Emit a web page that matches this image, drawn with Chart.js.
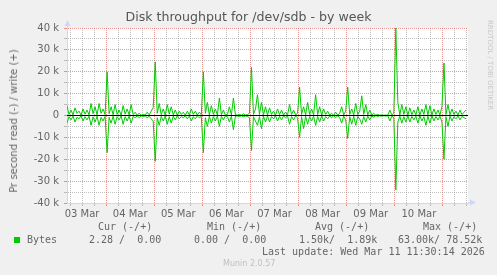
<!DOCTYPE html>
<html>
<head>
<meta charset="utf-8">
<script src="https://cdn.jsdelivr.net/npm/chart.js@4.4.0/dist/chart.umd.min.js"></script>
<style>
  body { margin: 0; background: #f0f0f0; }
  #wrap { position: relative; width: 497px; height: 275px; background: #f0f0f0; overflow: hidden; }
  #diskChart { position: absolute; left: 0; top: 0; }
  .title { position: absolute; left: 0; width: 497px; top: 9px; text-align: center; font: 12.6px "DejaVu Sans", sans-serif; color: #555; line-height: 16px; }
  .ytitle { position: absolute; left: 14px; top: 121px; transform: translate(-50%, -50%) rotate(-90deg); font: 10px "DejaVu Sans", sans-serif; color: #666; white-space: nowrap; line-height: 12px; }
  .t { position: absolute; font: 10px "DejaVu Sans Mono", monospace; color: #666; white-space: pre; line-height: 12px; }
  .swatch { position: absolute; left: 14px; top: 237px; width: 6px; height: 6px; background: #00cc00; }
  .munin { position: absolute; left: 223px; top: 259px; font: 8px "DejaVu Sans", sans-serif; color: #c0c0c0; line-height: 10px; }
  .rrd { position: absolute; left: 486px; top: 20px; font: 7px "DejaVu Sans", sans-serif; color: #c8c8c8; writing-mode: vertical-rl; line-height: 8px; }
</style>
</head>
<body>
<div id="wrap">
  <canvas id="diskChart"></canvas>
  <div class="title">Disk throughput for /dev/sdb - by week</div>
  <div class="ytitle">Pr second read (-) / write (+)</div>
  <div class="rrd">RRDTOOL / TOBI OETIKER</div>
  <div class="t" style="left:98px;top:221px">Cur (-/+)</div>
  <div class="t" style="left:207px;top:221px">Min (-/+)</div>
  <div class="t" style="left:315px;top:221px">Avg (-/+)</div>
  <div class="t" style="left:423px;top:221px">Max (-/+)</div>
  <div class="swatch"></div>
  <div class="t" style="left:27px;top:234px">Bytes</div>
  <div class="t" style="left:89px;top:234px">2.28 /  0.00</div>
  <div class="t" style="left:194px;top:234px">0.00 /  0.00</div>
  <div class="t" style="left:299px;top:234px">1.50k/  1.89k</div>
  <div class="t" style="left:398px;top:234px">63.00k/ 78.52k</div>
  <div class="t" style="left:262px;top:246px">Last update: Wed Mar 11 11:30:14 2026</div>
  <div class="munin">Munin 2.0.57</div>
</div>
<script>
// time axis in hours from the left edge of the graph, one sample per hour
const STEP_HOURS = 1;
const END_HOURS = 200;
const FIRST_MIDNIGHT = 19.5;   // 04 Mar 00:00
const FIRST_NOON = 7.5;        // 03 Mar 12:00

const dayLabels = ["03 Mar", "04 Mar", "05 Mar", "06 Mar", "07 Mar", "08 Mar", "09 Mar", "10 Mar"];

// write (+) in k bytes per second, one row per day (spike just after midnight)
const writeK = [
  4.5, 0.5, 2.5, 0.3, 3.5, 1, 2, 0.2, 3, 0.6, 2.5, 0.3, 5.5, 0.8, 4, 0.3, 5.5, 1, 3, 0.4,
  20,
  0.8, 4, 0.3, 5, 0.5, 2.5, 0.2, 4.5, 0.6, 3, 0.3, 5, 0.4, 1.5, 0.2, 1, 0.1, 0.5, 0.2, 1.5, 0.3, 2, 3.5,
  24.5,
  1, 5.5, 0.4, 3, 0.2, 5, 0.6, 4, 0.3, 2.5, 0.2, 2, 0.5, 1.5, 0.1, 2, 0.3, 3, 0.5, 2, 0.2, 1.5, 0.4,
  20,
  1, 6, 0.3, 4.5, 0.5, 3, 0.2, 8, 0.4, 2.5, 0.2, 0.5, 4, 0.3, 8, 0.3, 0.2, 0.5, 0.1, 0.8, 0.2, 0.4, 1,
  22,
  0.5, 3, 9.5, 0.5, 6, 0.3, 4, 0.2, 3.5, 0.5, 2, 0.2, 3, 0.4, 2.5, 0.2, 1.5, 0.3, 5, 0.5, 2.5, 0.3, 1,
  13,
  0.5, 4, 0.3, 6, 0.5, 3, 0.3, 9.5, 0.4, 4, 0.2, 3, 0.5, 2, 0.2, 1, 0.1, 1.5, 0.2, 1, 4, 0.3, 2,
  13,
  0.5, 3, 0.3, 5.5, 0.5, 2, 9, 0.5, 5, 0.3, 2.5, 0.2, 1, 0.1, 0.5, 0.1, 0.3, 0.1, 0.2, 0.1, 2.5, 0.3, 1,
  40,
  6, 0.3, 5, 0.5, 4, 0.2, 3.5, 0.4, 2.5, 0.3, 4, 0.2, 3, 0.5, 5, 0.3, 4.5, 0.2, 3, 0.5, 2.5, 0.3, 4,
  24,
  0.5, 5, 0.3, 3, 0.5, 2, 0.2, 2.5, 0.4, 1.5, 2.5
];

// read (-) in k bytes per second, drawn below zero
const readK = [
  -3.5, -0.5, -2, -0.3, -3, -0.8, -1.5, -0.2, -2.5, -0.5, -2, -0.3, -4.5, -0.6, -3, -0.3, -4.5, -0.8, -2.5, -0.4,
  -17,
  -0.8, -3.5, -0.3, -4, -0.5, -2, -0.2, -4, -0.5, -2.5, -0.3, -3.5, -0.4, -1, -0.2, -1, -0.1, -0.5, -0.2, -1, -0.3, -1.5, -2.5,
  -21,
  -1, -4.5, -0.4, -2.5, -0.2, -4, -0.5, -3.5, -0.3, -2, -0.2, -1.5, -0.5, -1, -0.1, -1.5, -0.3, -2.5, -0.5, -1.5, -0.2, -1, -0.4,
  -17,
  -1, -5, -0.3, -3.5, -0.5, -2.5, -0.2, -5, -0.4, -2, -0.2, -0.5, -3, -0.3, -6.5, -0.3, -0.2, -0.5, -0.1, -0.5, -0.2, -0.4, -1,
  -16,
  -0.5, -2.5, -4.5, -0.5, -6, -0.3, -3, -0.2, -3, -0.5, -1.5, -0.2, -2.5, -0.4, -2, -0.2, -1, -0.3, -4, -0.5, -2, -0.3, -1,
  -10,
  -0.5, -6, -0.3, -4, -0.5, -2.5, -0.3, -4.5, -0.4, -3, -0.2, -2.5, -0.5, -1.5, -0.2, -1, -0.1, -1, -0.2, -1, -3.5, -0.3, -2,
  -10.5,
  -0.5, -4, -0.3, -4.5, -0.5, -1.5, -4, -0.5, -3, -0.3, -2, -0.2, -0.8, -0.1, -0.4, -0.1, -0.3, -0.1, -0.2, -0.1, -2.5, -0.3, -1,
  -34,
  -3, -0.3, -3.5, -0.5, -3, -0.2, -3, -0.4, -2, -0.3, -3.5, -0.2, -2.5, -0.5, -4.5, -0.3, -3.5, -0.2, -2.5, -0.5, -2, -0.3, -3,
  -20,
  -0.5, -5, -0.3, -2.5, -0.5, -1.5, -0.2, -2, -0.4, -1, -1.5
];

const MINOR = "rgba(143,143,143,0.55)";
const MAJOR = "rgba(222,79,79,0.6)";
const AXIS = "#CFD6F8";

Chart.defaults.font.family = '"DejaVu Sans", sans-serif';
Chart.defaults.font.size = 10;
Chart.defaults.color = "#666";

const toPoints = arr => arr.map((v, i) => ({ x: i * STEP_HOURS, y: v * 1000 }));

/* white canvas behind the plot */
const plotBg = {
  id: "plotBg",
  beforeDraw(chart) {
    const { ctx, chartArea: a } = chart;
    ctx.save();
    ctx.fillStyle = "#fff";
    ctx.fillRect(a.left, a.top, a.right - a.left, a.bottom - a.top);
    ctx.restore();
  }
};

/* rrdtool style arrow heads on both axes */
const axisArrows = {
  id: "axisArrows",
  afterDraw(chart) {
    const { ctx, chartArea: a } = chart;
    const x = Math.round(a.left) + 0.5;
    const y = Math.round(a.bottom) - 0.5;
    ctx.save();
    ctx.strokeStyle = AXIS;
    ctx.fillStyle = AXIS;
    ctx.lineWidth = 1;
    ctx.beginPath();
    ctx.moveTo(x, a.top);
    ctx.lineTo(x, a.top - 3);
    ctx.moveTo(a.right, y);
    ctx.lineTo(a.right + 3, y);
    ctx.stroke();
    ctx.beginPath();
    ctx.moveTo(x, a.top - 8);
    ctx.lineTo(x - 3, a.top - 2);
    ctx.lineTo(x + 3, a.top - 2);
    ctx.closePath();
    ctx.fill();
    ctx.beginPath();
    ctx.moveTo(a.right + 8, y);
    ctx.lineTo(a.right + 2, y - 3);
    ctx.lineTo(a.right + 2, y + 3);
    ctx.closePath();
    ctx.fill();
    ctx.restore();
  }
};

const gridHours = [];
for (let h = FIRST_MIDNIGHT % 6; h < END_HOURS; h += 6) gridHours.push(h);

const isMidnight = v => Math.abs(((v - FIRST_MIDNIGHT) % 24 + 24) % 24) < 0.01;

new Chart(document.getElementById("diskChart"), {
  type: "line",
  data: {
    datasets: [
      {
        label: "zero",
        data: [{ x: 0, y: 0 }, { x: END_HOURS, y: 0 }],
        borderColor: "#000",
        borderWidth: 1,
        pointRadius: 0,
        order: 0
      },
      {
        label: "Bytes read",
        data: toPoints(readK),
        borderColor: "#00cc00",
        borderWidth: 1,
        pointRadius: 0,
        tension: 0,
        order: 1
      },
      {
        label: "Bytes write",
        data: toPoints(writeK),
        borderColor: "#00cc00",
        borderWidth: 1,
        pointRadius: 0,
        tension: 0,
        order: 1
      }
    ]
  },
  options: {
    responsive: true,
    maintainAspectRatio: false,
    animation: false,
    layout: { padding: { left: 0, right: 29, top: 28, bottom: 52 } },
    plugins: {
      legend: { display: false },
      tooltip: { enabled: false },
      title: { display: false }
    },
    scales: {
      x: {
        type: "linear",
        min: 0,
        max: END_HOURS,
        afterBuildTicks: s => { s.ticks = gridHours.map(v => ({ value: v })); },
        afterFit: s => { s.height = 20; },
        ticks: {
          autoSkip: false,
          maxRotation: 0,
          padding: 2,
          callback: v => {
            const d = (v - FIRST_NOON) / 24;
            return Number.isInteger(d) && d >= 0 && d < dayLabels.length ? dayLabels[d] : "";
          }
        },
        grid: {
          color: c => (isMidnight(c.tick.value) ? MAJOR : MINOR),
          tickLength: 3
        },
        border: { color: AXIS, dash: [1, 1] }
      },
      y: {
        min: -40000,
        max: 40000,
        afterFit: s => { s.width = 67; },
        ticks: {
          stepSize: 5000,
          autoSkip: false,
          padding: 5,
          callback: v => (v % 10000 !== 0 ? "" : v === 0 ? "0" : v / 1000 + " k")
        },
        grid: {
          color: c => (c.tick.value % 10000 === 0 ? MAJOR : MINOR),
          tickLength: 3
        },
        border: { color: AXIS, dash: [1, 1] }
      }
    }
  },
  plugins: [plotBg, axisArrows]
});
</script>
</body>
</html>
